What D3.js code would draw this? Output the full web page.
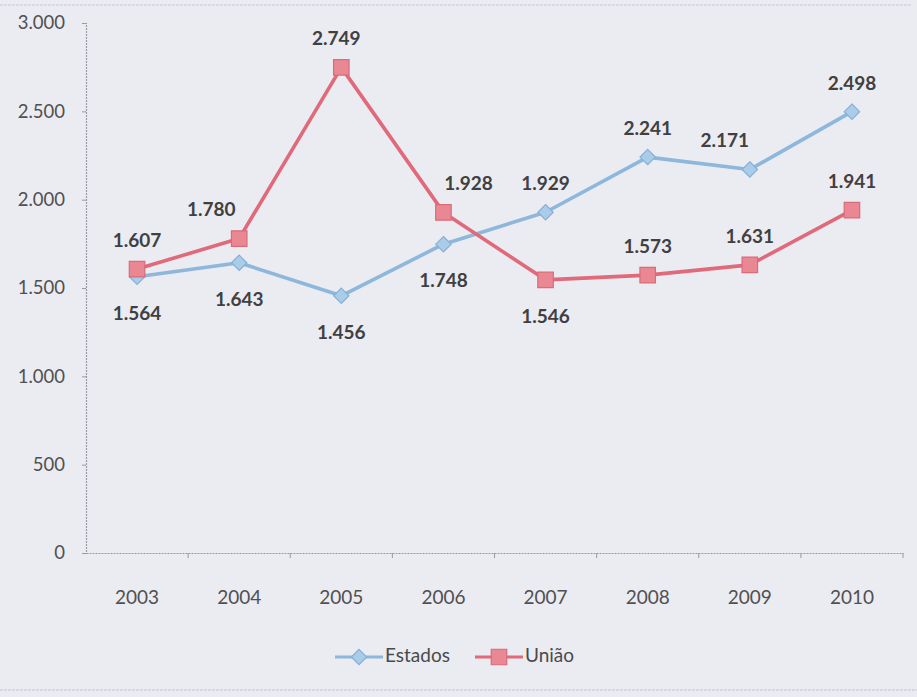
<!DOCTYPE html>
<html>
<head>
<meta charset="utf-8">
<script src="https://cdn.jsdelivr.net/npm/d3@7"></script>
<style>
  html, body { margin: 0; padding: 0; background: #ebebf2; }
  svg { display: block; }
</style>
</head>
<body>
<svg id="chart" width="917" height="697"></svg>
<script>
// ---- data ----
const years = ["2003", "2004", "2005", "2006", "2007", "2008", "2009", "2010"];
const estados = [1564, 1643, 1456, 1748, 1929, 2241, 2171, 2498];
const uniao   = [1607, 1780, 2749, 1928, 1546, 1573, 1631, 1941];
const yTicks  = [0, 500, 1000, 1500, 2000, 2500, 3000];
const seriesNames = ["Estados", "União"];

// label placement (presentation only)
const estadosPlace = [["b",0],["b",0],["b",0],["b",0],["a",0],["a",0],["a",-25],["a",0]];
const uniaoPlace   = [["a",0],["a",-28],["a",-5],["a",25],["b",0],["a",0],["a",0],["a",0]];

const svg = d3.select("#chart");
const W = 917, H = 697;

svg.append("rect").attr("width", W).attr("height", H).attr("fill", "#ebebf2");
// faint chart border lines
svg.append("line").attr("x1", 0).attr("x2", 912).attr("y1", 5).attr("y2", 5)
  .attr("stroke", "#c9c9d2").attr("stroke-width", 1).attr("stroke-dasharray", "3,1");
svg.append("line").attr("x1", 0).attr("x2", 917).attr("y1", 690).attr("y2", 690)
  .attr("stroke", "#c4c4cc").attr("stroke-width", 1).attr("stroke-dasharray", "3,1");

const mLeft = 86, mRight = 903, mTop = 23, mBottom = 553;

const x = d3.scaleBand().domain(years).range([mLeft, mRight]).padding(0);
const y = d3.scaleLinear().domain([0, 3000]).range([mBottom, mTop]);
const cx = d => x(d) + x.bandwidth() / 2;

const fmt = v => d3.format(",")(v).replace(/,/g, ".");

// y axis
const yAxis = d3.axisLeft(y).tickValues(yTicks).tickSize(4).tickFormat(fmt);
const gy = svg.append("g").attr("transform", `translate(${mLeft},0)`).call(yAxis);
gy.select(".domain").attr("stroke", "#9a9aa2").attr("stroke-width", 1.2).attr("stroke-dasharray", "2,1");
gy.selectAll(".tick line").attr("stroke", "#9a9aa2");
gy.selectAll(".tick text")
  .attr("x", -21)
  .attr("fill", "#505050")
  .style("font-family", "Lato, 'Open Sans', sans-serif")
  .style("font-size", "18.5px");

// x axis
const xAxis = d3.axisBottom(x).tickSize(0).tickSizeOuter(0);
const gx = svg.append("g").attr("transform", `translate(0,${mBottom})`).call(xAxis);
gx.select(".domain").attr("stroke", "#9a9aa2").attr("stroke-width", 1.2).attr("stroke-dasharray", "2,1");
gx.selectAll(".tick text")
  .attr("y", 38)
  .attr("fill", "#505050")
  .style("font-family", "Lato, 'Open Sans', sans-serif")
  .style("font-size", "19px");
// category boundary ticks
svg.append("g").selectAll("line")
  .data(years)
  .join("line")
  .attr("x1", d => x(d) + x.bandwidth()).attr("x2", d => x(d) + x.bandwidth())
  .attr("y1", mBottom).attr("y2", mBottom + 5)
  .attr("stroke", "#9a9aa2");

const colE = { line: "#8db7db", fill: "#a9cde9", stroke: "#86b0d6" };
const colU = { line: "#e0697a", fill: "#e98893", stroke: "#dc6a79" };

const line = d3.line().x((d, i) => cx(years[i])).y(d => y(d));

function drawSeries(vals, col, shape, place) {
  svg.append("path").datum(vals)
    .attr("d", line)
    .attr("fill", "none")
    .attr("stroke", col.line)
    .attr("stroke-width", 3.6)
    .attr("stroke-linejoin", "round");
  const sym = shape === "diamond"
    ? d3.symbol().type(d3.symbolDiamond2).size(150)
    : d3.symbol().type(d3.symbolSquare).size(240);
  svg.append("g").selectAll("path")
    .data(vals)
    .join("path")
    .attr("transform", (d, i) => `translate(${cx(years[i])},${y(d)})`)
    .attr("d", sym)
    .attr("fill", col.fill)
    .attr("stroke", col.stroke)
    .attr("stroke-width", 1.2);
  svg.append("g").selectAll("text")
    .data(vals)
    .join("text")
    .attr("x", (d, i) => cx(years[i]) + place[i][1])
    .attr("y", (d, i) => y(d) + (place[i][0] === "a" ? -27 : 38))
    .attr("text-anchor", "middle")
    .attr("dominant-baseline", "middle")
    .attr("fill", "#404040")
    .style("font-family", "Lato, 'Open Sans', sans-serif")
    .style("font-weight", "bold")
    .style("font-size", "19px")
    .text(d => fmt(d));
}

drawSeries(estados, colE, "diamond", estadosPlace);
drawSeries(uniao, colU, "square", uniaoPlace);

// legend
const legend = svg.append("g").attr("transform", "translate(0,657)");
const legItems = [
  { name: seriesNames[0], col: colE, shape: "diamond", x0: 335 },
  { name: seriesNames[1], col: colU, shape: "square", x0: 475 }
];
legItems.forEach(it => {
  legend.append("line").attr("x1", it.x0).attr("x2", it.x0 + 48).attr("y1", 0).attr("y2", 0)
    .attr("stroke", it.col.line).attr("stroke-width", 3);
  const sym = it.shape === "diamond"
    ? d3.symbol().type(d3.symbolDiamond2).size(150)
    : d3.symbol().type(d3.symbolSquare).size(240);
  legend.append("path").attr("d", sym).attr("transform", `translate(${it.x0 + 24},0)`)
    .attr("fill", it.col.fill).attr("stroke", it.col.stroke).attr("stroke-width", 1.2);
  legend.append("text").attr("x", it.x0 + 50).attr("y", 0)
    .attr("dominant-baseline", "middle")
    .attr("fill", "#4a4a4a")
    .style("font-family", "Lato, 'Open Sans', sans-serif")
    .style("font-size", "19px")
    .text(it.name);
});
</script>
</body>
</html>
